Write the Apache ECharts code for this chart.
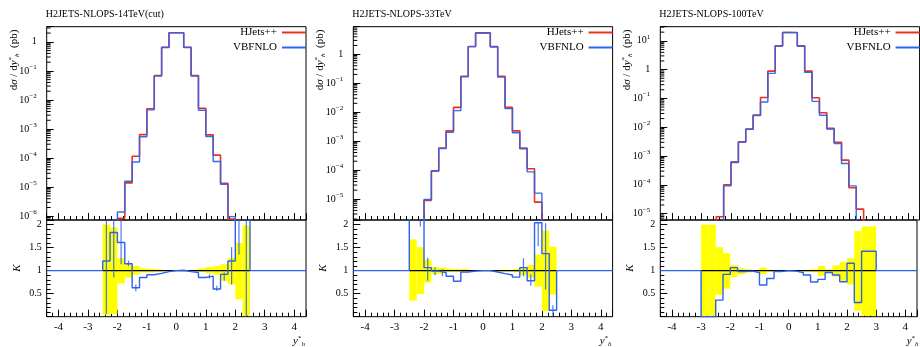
<!DOCTYPE html>
<html><head><meta charset="utf-8">
<script src="https://cdn.jsdelivr.net/npm/echarts@6/dist/echarts.min.js"></script>
<style>html,body{margin:0;padding:0;background:#fff}#c{width:920px;height:347px}</style>
</head><body><div id="c"></div>
<script>
// ---------------- data ----------------
const titles = ['H2JETS-NLOPS-14TeV(cut)', 'H2JETS-NLOPS-33TeV', 'H2JETS-NLOPS-100TeV'];
const seriesNames = ['HJets++', 'VBFNLO'];

const edges14 = [-2.5,-2.25,-2,-1.75,-1.5,-1.25,-1,-0.75,-0.5,-0.25,0,0.25,0.5,0.75,1,1.25,1.5,1.75,2,2.25,2.5];
const hjets14 = [3e-7,2.5e-7,8.5e-7,1.4e-5,1.15e-4,6.4e-4,5.0e-3,0.069,0.65,2.05,2.05,0.65,0.069,5.2e-3,6.3e-4,1.26e-4,1.36e-5,8.0e-7,2.5e-7,3e-7];
const vbf14   = [3.6e-7,4.6e-7,1.4e-6,1.6e-5,7.3e-5,5.45e-4,4.55e-3,0.066,0.64,2.05,2.07,0.64,0.066,4.4e-3,5.5e-4,7.6e-5,1.26e-5,9.7e-7,6e-7,7e-7];
const ratio14 = [1.21,1.83,1.61,1.15,0.63,0.85,0.91,0.94,0.98,1.0,1.01,0.98,0.96,0.85,0.88,0.60,0.92,1.21,2.4,2.4];
const bandLo14 = [0.04,0.06,0.72,0.85,0.91,0.96,0.96,0.98,0.99,0.995,0.995,0.99,0.98,0.97,0.94,0.91,0.78,0.70,0.38,0.02];
const bandHi14 = [2.0,1.94,1.27,1.14,1.10,1.05,1.04,1.03,1.01,1.005,1.005,1.01,1.02,1.05,1.08,1.10,1.14,1.28,1.6,1.98];
const errX14  = [-2.375,-2.125,-1.875,-1.625,-1.375,1.125,1.375,1.625,1.875,2.125,2.375];
const errLo14 = [0.06,0.85,1.14,1.10,0.55,0.83,0.56,0.78,0.70,1.35,0.0];
const errHi14 = [2.1,2.1,2.1,1.22,0.70,0.92,0.67,0.96,1.51,2.1,2.1];

const edges33 = [-2.5,-2.25,-2,-1.75,-1.5,-1.25,-1,-0.75,-0.5,-0.25,0,0.25,0.5,0.75,1,1.25,1.5,1.75,2,2.25,2.5];
const hjets33 = [5e-7,6e-7,8.9e-6,9.3e-5,5.7e-4,2.24e-3,0.0145,0.172,1.84,5.44,5.44,1.84,0.172,0.0145,2.24e-3,5.4e-4,1.1e-4,7.7e-6,1.2e-6,1.1e-6];
const vbf33   = [1.5e-6,1.6e-6,9.5e-6,9.2e-5,5.5e-4,2.0e-3,0.0112,0.167,1.82,5.4,5.4,1.78,0.161,0.0131,1.93e-3,5.75e-4,8.6e-5,1.58e-5,1.64e-6,1.5e-7];
const ratio33 = [2.6,2.6,1.065,0.99,0.96,0.88,0.77,0.97,0.99,1.0,1.0,0.97,0.935,0.905,0.86,1.065,0.78,2.04,1.37,0.14];
const bandLo33 = [0.35,0.49,0.74,0.92,0.935,0.97,0.97,0.96,0.985,0.995,0.995,0.985,0.98,0.98,0.97,0.90,0.85,0.65,0.12,0.48];
const bandHi33 = [1.68,1.51,1.24,1.08,1.065,1.04,1.03,1.04,1.015,1.005,1.005,1.015,1.02,1.02,1.03,1.08,1.12,1.35,1.87,1.52];
const errX33  = [-2.125,-1.875,-1.625,-1.375,1.375,1.625,1.875,2.125,2.375];
const errLo33 = [1.96,0.78,0.90,0.88,0.88,0.67,1.53,0.59,0.02];
const errHi33 = [2.1,1.28,1.07,1.03,1.27,0.92,2.03,2.03,0.25];

const edges100 = [-3,-2.75,-2.5,-2.25,-2,-1.75,-1.5,-1.25,-1,-0.75,-0.5,-0.25,0,0.25,0.5,0.75,1,1.25,1.5,1.75,2,2.25,2.5,2.75,3];
const hjets100 = [3e-6,4e-6,7.8e-6,1.0e-4,6.0e-4,3.1e-3,8.6e-3,0.0265,0.108,0.89,6.7,19.5,19.5,6.7,0.89,0.105,0.032,9.1e-3,3.0e-3,7.2e-4,7.9e-5,1.44e-5,3e-6,2.5e-6];
const vbf100   = [1e-9,1e-9,2.8e-6,9.2e-5,6.4e-4,3.05e-3,8.5e-3,0.0255,0.075,0.74,6.6,19.5,19.3,6.45,0.80,0.079,0.026,8.7e-3,2.7e-3,5.5e-4,9.2e-5,4.5e-6,4.3e-6,3.5e-6];
const ratio100 = [0,0,0.36,0.92,1.065,0.98,0.99,0.96,0.69,0.83,0.98,1.0,0.99,0.96,0.905,0.755,0.81,0.96,0.905,0.76,1.16,0.31,1.42,1.42];
const bandLo100 = [0.02,0.02,0.48,0.61,0.86,0.92,0.96,0.97,0.92,0.98,0.99,0.995,0.995,0.99,0.98,0.97,0.885,0.96,0.87,0.78,0.70,0.13,0.02,0.02];
const bandHi100 = [2.0,2.0,1.51,1.38,1.12,1.05,1.03,1.015,1.065,1.02,1.01,1.005,1.005,1.01,1.02,1.03,1.10,1.03,1.115,1.19,1.27,1.86,1.96,1.96];
const errX100 = [], errLo100 = [], errHi100 = [];

// axis ranges (log10 for the upper panels)
const xMin = -4.4, xMax = 4.4;
const upperRange14 = [-6.13, 0.52];
const upperRange33 = [-5.73, 0.95];
const upperRange100 = [-5.22, 1.49];
const ratioMin = 0, ratioMax = 2.1;

// ---------------- styling / layout ----------------
const RED = '#e8321e', BLUE = '#2f62ee', YEL = '#ffff00';
const SERIF = "'Liberation Serif', 'DejaVu Serif', serif";
const panelLeft = [46.7, 353.3, 660.3];
const panelW = 259.3;
const upTop = 26.7, upH = 193.3, loTop = 220, loH = 96.7;

const panels = [
  {title: titles[0], edges: edges14, hj: hjets14, vbf: vbf14, ratio: ratio14, lo: bandLo14, hi: bandHi14, ex: errX14, el: errLo14, eh: errHi14, yr: upperRange14},
  {title: titles[1], edges: edges33, hj: hjets33, vbf: vbf33, ratio: ratio33, lo: bandLo33, hi: bandHi33, ex: errX33, el: errLo33, eh: errHi33, yr: upperRange33},
  {title: titles[2], edges: edges100, hj: hjets100, vbf: vbf100, ratio: ratio100, lo: bandLo100, hi: bandHi100, ex: errX100, el: errLo100, eh: errHi100, yr: upperRange100}
];

function logLabel(v) {
  const r = Math.round(v);
  if (Math.abs(v - r) > 1e-6) return '';
  if (r === 0) return '1';
  return '{b|10}{s|' + (r < 0 ? '\u2212' + (-r) : r) + '}';
}
function ratioLabel(v) {
  const r = Math.round(v * 2) / 2;
  if (Math.abs(v - r) > 1e-6 || r <= 0) return '';
  return String(r);
}
function xLabel(v) {
  const r = Math.round(v);
  if (Math.abs(v - r) > 1e-6) return '';
  return String(r);
}

const scriptRich = {
  i: {fontStyle: 'italic', fontFamily: SERIF, fontSize: 11, lineHeight: 13},
  n: {fontFamily: SERIF, fontSize: 11, lineHeight: 13},
  sup: {fontFamily: SERIF, fontSize: 7, lineHeight: 7, verticalAlign: 'top'},
  sub: {fontFamily: SERIF, fontSize: 7, lineHeight: 7, verticalAlign: 'bottom', fontStyle: 'italic'}
};

const grids = [], xAxes = [], yAxes = [], series = [], titleArr = [], legends = [], graphics = [];

panels.forEach((P, p) => {
  const L = panelLeft[p];
  const gu = 2 * p, gl = 2 * p + 1;
  grids.push({left: L, top: upTop, width: panelW, height: upH, show: true, borderColor: '#000', borderWidth: 1, backgroundColor: 'transparent'});
  grids.push({left: L, top: loTop, width: panelW, height: loH, show: true, borderColor: '#000', borderWidth: 1, backgroundColor: 'transparent'});

  const xBase = {type: 'value', min: xMin, max: xMax, splitNumber: 8, position: 'bottom',
    axisLine: {show: false, onZero: false},
    axisTick: {show: true, inside: true, length: 7, lineStyle: {color: '#000', width: 1}},
    minorTick: {show: true, splitNumber: 5, length: 4, lineStyle: {color: '#000', width: 1}},
    splitLine: {show: false}};
  xAxes.push(Object.assign({}, xBase, {gridIndex: gu, axisLabel: {show: false}}));
  xAxes.push(Object.assign({}, xBase, {gridIndex: gl, axisLabel: {show: true, margin: 5, formatter: xLabel, color: '#000', fontFamily: SERIF, fontSize: 11}}));

  yAxes.push({type: 'value', gridIndex: gu, min: P.yr[0], max: P.yr[1], splitNumber: 6, position: 'left',
    axisLine: {show: false, onZero: false},
    axisTick: {show: true, inside: true, length: 7, lineStyle: {color: '#000'}},
    splitLine: {show: false},
    axisLabel: {show: true, margin: 10, formatter: logLabel, color: '#000', fontFamily: SERIF, fontSize: 10,
      rich: {b: {fontFamily: SERIF, fontSize: 10, lineHeight: 15, color: '#000'},
             s: {fontFamily: SERIF, fontSize: 7, lineHeight: 8, verticalAlign: 'top', color: '#000'}}}});
  yAxes.push({type: 'value', gridIndex: gl, min: ratioMin, max: ratioMax, splitNumber: 4, position: 'left',
    axisLine: {show: false, onZero: false},
    axisTick: {show: true, inside: true, length: 7, lineStyle: {color: '#000'}},
    minorTick: {show: true, splitNumber: 5, length: 4, lineStyle: {color: '#000'}},
    splitLine: {show: false},
    axisLabel: {show: true, margin: 5, formatter: ratioLabel, color: '#000', fontFamily: SERIF, fontSize: 10}});

  const n = P.edges.length - 1;
  // upper step histograms (log10 values on a linear axis)
  const stepData = vals => {
    const d = vals.map((v, i) => [P.edges[i], Math.log10(v)]);
    d.push([P.edges[n], Math.log10(vals[n - 1])]);
    return d;
  };
  series.push({type: 'line', name: seriesNames[0], xAxisIndex: gu, yAxisIndex: gu, step: 'end', showSymbol: false, symbol: 'none', clip: true,
    data: stepData(P.hj), color: RED, itemStyle: {color: RED}, lineStyle: {color: RED, width: 1.6}, z: 3});
  series.push({type: 'line', name: seriesNames[1], xAxisIndex: gu, yAxisIndex: gu, step: 'end', showSymbol: false, symbol: 'none', clip: true,
    data: stepData(P.vbf), color: BLUE, itemStyle: {color: BLUE}, lineStyle: {color: BLUE, width: 1.4, opacity: 0.95}, z: 4});

  // log minor ticks on the upper left axis
  const mt = [];
  for (let k = Math.floor(P.yr[0]); k <= Math.ceil(P.yr[1]); k++) {
    for (let m = 2; m <= 9; m++) {
      const v = k + Math.log10(m);
      if (v > P.yr[0] && v < P.yr[1]) mt.push([xMin, v]);
    }
  }
  series.push({type: 'custom', name: 'ticks', xAxisIndex: gu, yAxisIndex: gu, data: mt, silent: true, z: 5,
    renderItem: (params, api) => {
      const c = api.coord([api.value(0), api.value(1)]);
      return {type: 'line', shape: {x1: c[0], y1: c[1], x2: c[0] + 4, y2: c[1]}, style: {stroke: '#000', lineWidth: 1}};
    }});

  // lower: yellow band
  const band = P.lo.map((lo, i) => [P.edges[i], P.edges[i + 1], lo, P.hi[i]]);
  series.push({type: 'custom', name: 'band', xAxisIndex: gl, yAxisIndex: gl, data: band, silent: true, z: 1,
    encode: {x: [0, 1], y: [2, 3]},
    renderItem: (params, api) => {
      const a = api.coord([api.value(0), api.value(3)]);
      const b = api.coord([api.value(1), api.value(2)]);
      return {type: 'rect', shape: {x: a[0], y: a[1], width: b[0] - a[0], height: b[1] - a[1]}, style: {fill: YEL}};
    }});
  // reference line
  series.push({type: 'line', name: 'ref', xAxisIndex: gl, yAxisIndex: gl, showSymbol: false, symbol: 'none',
    data: [[P.edges[0], 1], [P.edges[n], 1]], lineStyle: {color: '#000', width: 1.4}, z: 2});
  // ratio step line
  const rd = [[xMin, 1]];
  P.ratio.forEach((r, i) => rd.push([P.edges[i], r]));
  rd.push([P.edges[n], 1]);
  rd.push([xMax, 1]);
  series.push({type: 'line', name: seriesNames[1], xAxisIndex: gl, yAxisIndex: gl, step: 'end', showSymbol: false, symbol: 'none', clip: true,
    data: rd, color: BLUE, itemStyle: {color: BLUE}, lineStyle: {color: BLUE, width: 1.4}, z: 3});
  // error bars
  if (P.ex.length) {
    series.push({type: 'custom', name: 'err', xAxisIndex: gl, yAxisIndex: gl, silent: true, z: 3,
      data: P.ex.map((x, i) => [x, P.el[i], P.eh[i]]),
      encode: {x: 0, y: [1, 2]},
      renderItem: (params, api) => {
        const a = api.coord([api.value(0), api.value(1)]);
        const b = api.coord([api.value(0), api.value(2)]);
        return {type: 'line', shape: {x1: a[0], y1: a[1], x2: b[0], y2: b[1]}, style: {stroke: BLUE, lineWidth: 1.2, opacity: 0.85}};
      }});
  }

  titleArr.push({text: P.title, left: L - 1, top: 9, padding: 0,
    textStyle: {fontFamily: SERIF, fontSize: 10, fontWeight: 'normal', color: '#000'}});

  legends.push({data: seriesNames, orient: 'vertical', right: 920 - (L + panelW), top: 27, align: 'right',
    itemWidth: 24, itemHeight: 2, itemGap: 4, icon: 'rect', padding: 0, selectedMode: false,
    textStyle: {fontFamily: SERIF, fontSize: 11, color: '#000'}});

  // axis titles
  graphics.push({type: 'text', x: L - 33, y: 60, rotation: Math.PI / 2,
    style: {text: '{n|d}{i|\u03c3}{n| / d}{i|y}{sup|*}{sub|h}{n|  (pb)}', align: 'center', verticalAlign: 'middle', fill: '#000',
      font: '11px ' + SERIF, rich: scriptRich}});
  graphics.push({type: 'text', x: L - 30, y: 268, rotation: Math.PI / 2,
    style: {text: 'K', align: 'center', verticalAlign: 'middle', fill: '#000', font: 'italic 11px ' + SERIF}});
  graphics.push({type: 'text', x: L + panelW - 1, y: 341,
    style: {text: '{i|y}{sup|*}{sub|h}', align: 'right', verticalAlign: 'middle', fill: '#000', font: '11px ' + SERIF,
      rich: scriptRich}});
});

const chart = echarts.init(document.getElementById('c'), null, {renderer: 'canvas', width: 920, height: 347});
chart.setOption({
  animation: false,
  backgroundColor: '#fff',
  title: titleArr,
  legend: legends,
  grid: grids,
  xAxis: xAxes,
  yAxis: yAxes,
  series: series,
  graphic: graphics
});
</script>
</body></html>
